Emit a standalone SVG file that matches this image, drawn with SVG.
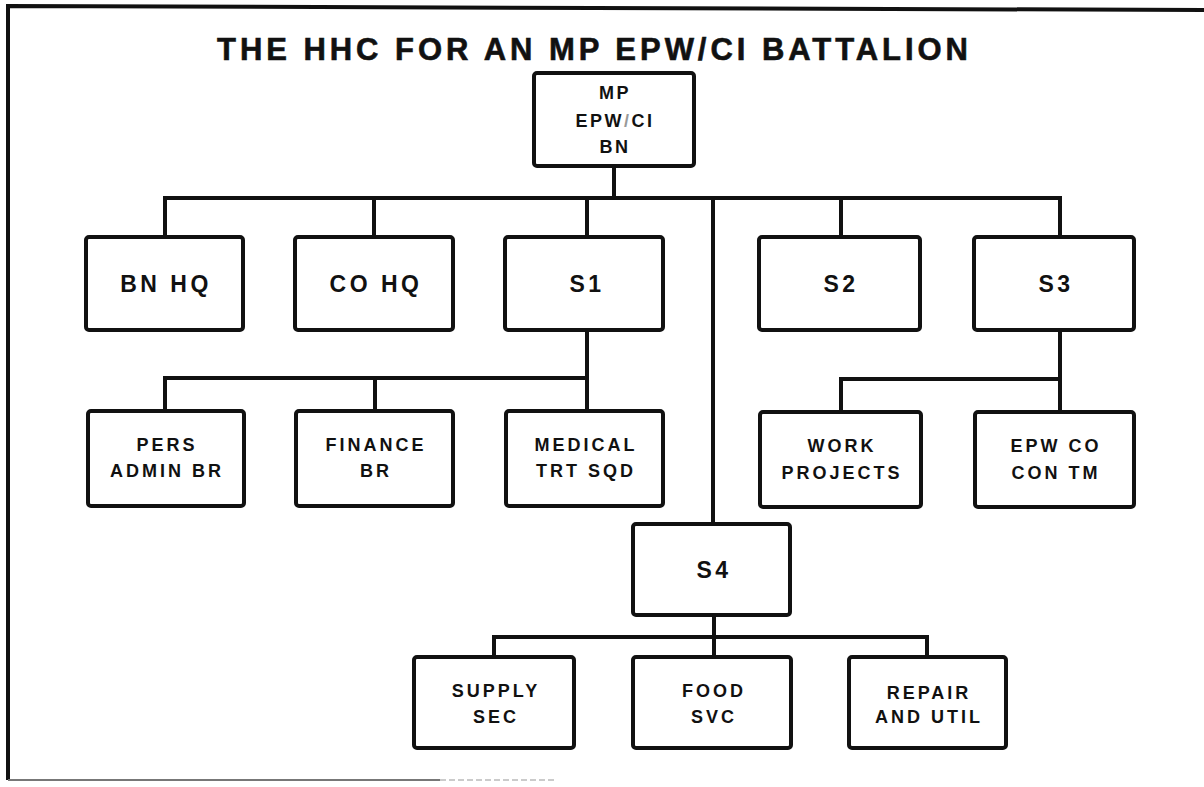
<svg xmlns="http://www.w3.org/2000/svg" width="1204" height="787" viewBox="0 0 1204 787">
<style>
.box{fill:#fff;stroke:#111;stroke-width:4;}
.ln{stroke:#111;stroke-width:4;fill:none;stroke-linecap:square;}
.t{font-family:"Liberation Sans",Arial,sans-serif;font-weight:bold;fill:#111;text-anchor:middle;}
.big{font-size:23px;letter-spacing:3.5px;}
.sm{font-size:18px;letter-spacing:3px;}
.mp{font-size:18px;letter-spacing:2.5px;}
.title{font-family:"Liberation Sans",Arial,sans-serif;font-weight:bold;font-size:31px;fill:#111;stroke:#111;stroke-width:0.6;}
</style>
<rect width="1204" height="787" fill="#fff"/>
<g id="frame">
<path d="M8,780 L8,6 L1204,10" fill="none" stroke="#111" stroke-width="4"/>
<line x1="8" y1="780" x2="440" y2="780" stroke="#777" stroke-width="2"/>
<line x1="440" y1="780" x2="555" y2="780" stroke="#bbb" stroke-width="1.5" stroke-dasharray="6,3"/>
</g>
<text class="title" x="217" y="60" textLength="751" lengthAdjust="spacing">THE HHC FOR AN MP EPW/CI BATTALION</text>
<g id="connectors">
<line class="ln" x1="614" y1="166" x2="614" y2="198"/>
<line class="ln" x1="165" y1="198" x2="1060" y2="198"/>
<line class="ln" x1="165" y1="198" x2="165" y2="237"/>
<line class="ln" x1="374" y1="198" x2="374" y2="237"/>
<line class="ln" x1="587" y1="198" x2="587" y2="237"/>
<line class="ln" x1="841" y1="198" x2="841" y2="237"/>
<line class="ln" x1="1060" y1="198" x2="1060" y2="237"/>
<line class="ln" x1="713" y1="198" x2="713" y2="524"/>
<line class="ln" x1="587" y1="330" x2="587" y2="411"/>
<line class="ln" x1="165" y1="378" x2="587" y2="378"/>
<line class="ln" x1="165" y1="378" x2="165" y2="411"/>
<line class="ln" x1="375" y1="378" x2="375" y2="411"/>
<line class="ln" x1="1060" y1="330" x2="1060" y2="411"/>
<line class="ln" x1="841" y1="379" x2="1060" y2="379"/>
<line class="ln" x1="841" y1="379" x2="841" y2="411"/>
<line class="ln" x1="714" y1="615" x2="714" y2="657"/>
<line class="ln" x1="494" y1="637" x2="927" y2="637"/>
<line class="ln" x1="494" y1="637" x2="494" y2="657"/>
<line class="ln" x1="927" y1="637" x2="927" y2="657"/>
</g>
<g id="n-bn"><rect class="box" x="534" y="73" width="160" height="93" rx="3"/>
<text class="t mp" x="615" y="99">MP</text>
<text class="t mp" x="615" y="127">EPW<tspan fill="#999">/</tspan>CI</text>
<text class="t mp" x="615" y="153">BN</text></g>
<g id="n-bnhq"><rect class="box" x="86" y="237" width="157" height="93" rx="3"/><text class="t big" x="166" y="292">BN HQ</text></g>
<g id="n-cohq"><rect class="box" x="295" y="237" width="158" height="93" rx="3"/><text class="t big" x="376" y="292">CO HQ</text></g>
<g id="n-s1"><rect class="box" x="505" y="237" width="158" height="93" rx="3"/><text class="t big" x="587" y="292">S1</text></g>
<g id="n-s2"><rect class="box" x="759" y="237" width="161" height="93" rx="3"/><text class="t big" x="841" y="292">S2</text></g>
<g id="n-s3"><rect class="box" x="974" y="237" width="160" height="93" rx="3"/><text class="t big" x="1056" y="292">S3</text></g>
<g id="n-pers"><rect class="box" x="88" y="411" width="156" height="95" rx="3"/><text class="t sm" x="167" y="451">PERS</text><text class="t sm" x="167" y="477">ADMIN BR</text></g>
<g id="n-fin"><rect class="box" x="296" y="411" width="157" height="95" rx="3"/><text class="t sm" x="376" y="451">FINANCE</text><text class="t sm" x="376" y="477">BR</text></g>
<g id="n-med"><rect class="box" x="506" y="411" width="157" height="95" rx="3"/><text class="t sm" x="586" y="451">MEDICAL</text><text class="t sm" x="586" y="477">TRT SQD</text></g>
<g id="n-work"><rect class="box" x="760" y="412" width="161" height="95" rx="3"/><text class="t sm" x="842" y="452">WORK</text><text class="t sm" x="842" y="479">PROJECTS</text></g>
<g id="n-epw"><rect class="box" x="975" y="412" width="159" height="95" rx="3"/><text class="t sm" x="1056" y="452">EPW CO</text><text class="t sm" x="1056" y="479">CON TM</text></g>
<g id="n-s4"><rect class="box" x="633" y="524" width="157" height="91" rx="3"/><text class="t big" x="714" y="578">S4</text></g>
<g id="n-supply"><rect class="box" x="414" y="657" width="160" height="91" rx="3"/><text class="t sm" x="496" y="697">SUPPLY</text><text class="t sm" x="496" y="723">SEC</text></g>
<g id="n-food"><rect class="box" x="633" y="657" width="158" height="91" rx="3"/><text class="t sm" x="714" y="697">FOOD</text><text class="t sm" x="714" y="723">SVC</text></g>
<g id="n-repair"><rect class="box" x="849" y="657" width="157" height="91" rx="3"/><text class="t sm" x="929" y="699">REPAIR</text><text class="t sm" x="929" y="723">AND UTIL</text></g>
</svg>
